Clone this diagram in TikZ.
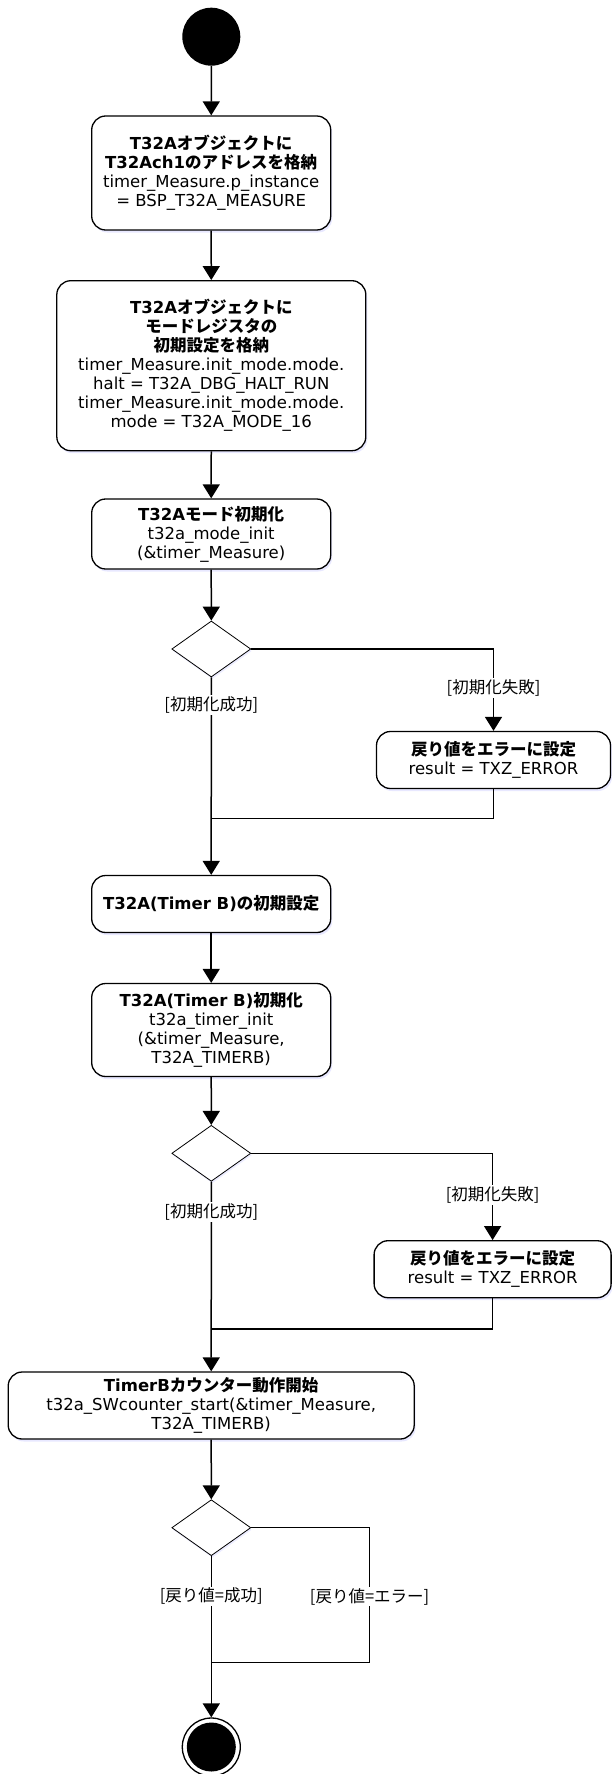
\documentclass[tikz,border=0pt]{standalone}
\usepackage{fontspec}
\setmainfont{DejaVu Sans}
\newfontfamily\jpfont{Noto Sans CJK JP}
\newcommand{\jp}[1]{{\jpfont #1}}
\usetikzlibrary{shapes.geometric, arrows.meta, shadows}
\tikzset{
    actnode/.style={
        rectangle,
        rounded corners=14pt,
        draw=black,
        line width=1.3pt, % 枠線
        fill=white,
        drop shadow={shadow xshift=1.5pt, shadow yshift=-2.5pt, fill=blue!50, opacity=0.18},
        align=center,
        inner sep=2pt,
        font=\fontsize{16.5}{19}\selectfont
    },
    decnode/.style={
        diamond,
        draw=black,
        line width=0.8pt,
        fill=white,
        drop shadow={shadow xshift=1pt, shadow yshift=-2pt, fill=blue!50, opacity=0.15},
        minimum width=79pt,
        minimum height=56pt,
        inner sep=0
    },
    initnode/.style={
        circle,
        fill=black,
        minimum size=58pt,
        inner sep=0
    },
    finalnode/.style={
        circle,
        draw=black,
        line width=1.3pt,
        fill=white,
        minimum size=58pt,
        inner sep=0
    },
    flowline/.style={line width=1.5pt},
    flowarrow/.style={line width=1.5pt, -{Triangle[length=14pt,width=17pt]}},
    guard/.style={
        fill=white, % 線を隠す
        inner sep=1.5pt,
        font=\jpfont\fontsize{16.5}{19}\selectfont
    }
}

\begin{document}
\begin{tikzpicture}[x=1pt, y=-1pt]
    \useasboundingbox (0,0) rectangle (612,1774);
    \node[initnode] (init) at (211.3,36.7) {};
    \node[actnode, minimum width=239pt, minimum height=114pt] (act1) at (211.2,173)
        {\textbf{T32A\jp{オブジェクトに}}\\\textbf{T32Ach1\jp{のアドレスを格納}}\\timer\_Measure.p\_instance\\ = BSP\_T32A\_MEASURE};
    \node[actnode, minimum width=309pt, minimum height=170pt] (act2) at (211.3,365.7)
        {\textbf{T32A\jp{オブジェクトに}}\\\textbf{\jp{モードレジスタの}}\\\textbf{\jp{初期設定を格納}}\\timer\_Measure.init\_mode.mode.\\halt = T32A\_DBG\_HALT\_RUN\\timer\_Measure.init\_mode.mode.\\mode = T32A\_MODE\_16};
    \node[actnode, minimum width=239pt, minimum height=70pt] (act3) at (211.2,534)
        {\textbf{T32A\jp{モード初期化}}\\t32a\_mode\_init\\(\&timer\_Measure)};
    \node[decnode] (dec1) at (211.3,649) {};
    \node[actnode, minimum width=234pt, minimum height=57pt] (err1) at (493.5,760)
        {\textbf{\jp{戻り値をエラーに設定}}\\result = TXZ\_ERROR};
    \coordinate (join1) at (211.3,818.3);
    \node[actnode, minimum width=239pt, minimum height=57pt] (act4) at (211.2,904)
        {\textbf{T32A(Timer B)\jp{の初期設定}}};
    \node[actnode, minimum width=239pt, minimum height=93pt] (act5) at (211.2,1030)
        {\textbf{T32A(Timer B)\jp{初期化}}\\t32a\_timer\_init\\(\&timer\_Measure,\\T32A\_TIMERB)};
    \node[decnode] (dec2) at (211.3,1153.3) {};
    \node[actnode, minimum width=237pt, minimum height=57pt] (err2) at (492.6,1269.2)
        {\textbf{\jp{戻り値をエラーに設定}}\\result = TXZ\_ERROR};
    \coordinate (join2) at (211.3,1329);
    \node[actnode, minimum width=406pt, minimum height=67pt] (act6) at (211.2,1405.5)
        {\textbf{TimerB\jp{カウンター動作開始}}\\t32a\_SWcounter\_start(\&timer\_Measure,\\T32A\_TIMERB)};
    \node[decnode] (dec3) at (211.3,1527.7) {};
    \coordinate (join3r) at (369.6,1662.7);
    \coordinate (join3) at (211.3,1662.7);
    \node[finalnode] (final) at (211.3,1747) {};
    \node[initnode, minimum size=49pt] (finaldot) at (final) {};

    \draw[flowarrow] (init) -- (act1);
    \draw[flowarrow] (act1) -- (act2);
    \draw[flowarrow] (act2) -- (act3);
    \draw[flowarrow] (act3) -- (dec1);
    \draw[flowarrow] (dec1.east) -| node[guard, pos=0.74] {[初期化失敗]} (err1.north);
    \draw[flowline] (err1.south) |- (join1);
    \draw[flowarrow] (dec1.south) -- node[guard, pos=0.14] {[初期化成功]} (act4);
    \draw[flowarrow] (act4) -- (act5);
    \draw[flowarrow] (act5) -- (dec2);
    \draw[flowarrow] (dec2.east) -| node[guard, pos=0.74] {[初期化失敗]} (err2.north);
    \draw[flowline] (err2.south) |- (join2);
    \draw[flowarrow] (dec2.south) -- node[guard, pos=0.16] {[初期化成功]} (act6);
    \draw[flowarrow] (act6) -- (dec3);
    \draw[flowline] (dec3.east) -| node[guard, pos=0.755] {[戻り値=エラー]} (join3r) -- (join3);
    \draw[flowarrow] (dec3.south) -- node[guard, pos=0.25] {[戻り値=成功]} (final);
\end{tikzpicture}
\end{document}
